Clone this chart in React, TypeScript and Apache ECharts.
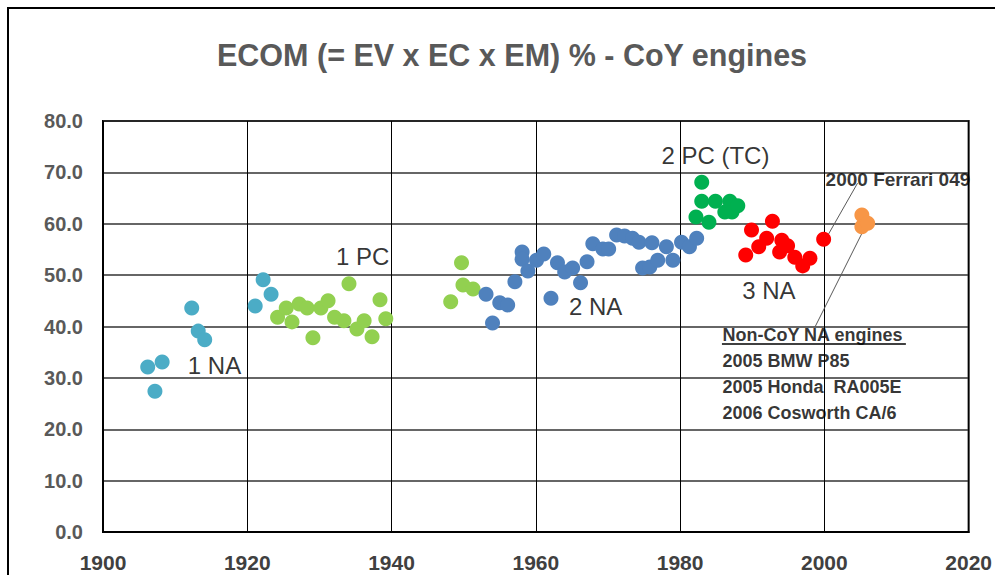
import React, { useEffect, useRef } from "react";
import * as echarts from "echarts";

const FONT = "'Liberation Sans', Arial, sans-serif";

const TITLE = "ECOM (= EV x EC x EM) % - CoY engines";

const X_MIN = 1900;
const X_MAX = 2020;
const X_STEP = 20;
const Y_MIN = 0;
const Y_MAX = 80;
const Y_STEP = 10;

const NA1_YEARS = [1906.2, 1907.2, 1908.2, 1912.3, 1913.2, 1914.1, 1921.1, 1922.2, 1923.3];
const NA1_VALUES = [32.1, 27.4, 33.1, 43.6, 39.1, 37.4, 44.0, 49.1, 46.3];

const PC1_YEARS = [1924.2, 1925.4, 1926.2, 1927.2, 1928.3, 1929.1, 1930.2, 1931.2, 1932.1, 1933.4, 1934.1, 1935.2, 1936.2, 1937.3, 1938.4, 1939.2, 1948.2, 1949.7, 1949.9, 1951.3];
const PC1_VALUES = [41.8, 43.6, 40.9, 44.4, 43.6, 37.8, 43.6, 45.0, 41.8, 41.1, 48.3, 39.5, 41.1, 38.0, 45.2, 41.5, 44.8, 52.4, 48.1, 47.3];

const NA2_YEARS = [1953.1, 1954.0, 1955.0, 1956.1, 1957.1, 1958.1, 1958.1, 1958.9, 1960.1, 1961.1, 1962.1, 1963.0, 1964.0, 1965.1, 1966.2, 1967.1, 1967.9, 1969.3, 1970.1, 1971.2, 1972.3, 1973.4, 1974.3, 1974.8, 1975.8, 1976.1, 1976.9, 1978.1, 1979.0, 1980.2, 1981.3, 1982.3];
const NA2_VALUES = [46.3, 40.7, 44.6, 44.2, 48.7, 54.5, 53.1, 50.8, 52.9, 54.1, 45.5, 52.4, 50.6, 51.4, 48.5, 52.6, 56.1, 55.1, 55.1, 57.8, 57.6, 57.2, 56.4, 51.4, 51.6, 56.3, 52.9, 55.5, 52.9, 56.4, 55.5, 57.2];

const PC2_YEARS = [1982.2, 1983.0, 1983.0, 1984.0, 1984.9, 1986.2, 1986.9, 1987.2, 1988.0];
const PC2_VALUES = [61.3, 68.1, 64.4, 60.3, 64.4, 62.3, 64.4, 62.3, 63.5];

const NA3_YEARS = [1989.1, 1989.9, 1990.9, 1992.0, 1992.8, 1993.8, 1994.1, 1994.9, 1995.9, 1997.0, 1998.0, 1999.9];
const NA3_VALUES = [53.9, 58.8, 55.5, 57.2, 60.5, 54.5, 56.8, 55.7, 53.5, 51.8, 53.3, 57.0];

const NONCOY_YEARS = [2005.2, 2005.2, 2006.0];
const NONCOY_VALUES = [61.7, 59.4, 60.1];

const GROUP_LABELS = ["1 NA", "1 PC", "2 NA", "2 PC (TC)", "3 NA"];
const GROUP_LABEL_X = [1915.45, 1936.0, 1968.3, 1984.9, 1992.3];
const GROUP_LABEL_Y = [32.5, 53.7, 43.8, 73.2, 47.1];

const FERRARI_TEXT = "2000 Ferrari 049";
const FERRARI_POS = [2010.2, 68.7];
const FERRARI_LEADER = [[2000.5, 57.8], [2004.6, 67.9]];

const NONCOY_LINES = ["Non-CoY NA engines", "2005 BMW P85", "2005 Honda  RA005E", "2006 Cosworth CA/6"];
const NONCOY_TEXT_X = 1985.8;
const NONCOY_TEXT_Y = [38.3, 33.3, 28.2, 23.2];
const NONCOY_UNDERLINE = [[1985.8, 36.6], [2011.3, 36.6]];
const NONCOY_LEADER = [[2005.3, 58.4], [1998.7, 39.9]];

const zip = (xs: number[], ys: number[]) => xs.map((x, i) => [x, ys[i]]);

const scatter = (name: string, color: string, xs: number[], ys: number[]) => ({
  name,
  type: "scatter",
  data: zip(xs, ys),
  symbolSize: 15,
  itemStyle: { color, opacity: 1 },
  silent: true,
  z: 3,
});

export default function App() {
  const ref = useRef<HTMLDivElement>(null);

  useEffect(() => {
    if (!ref.current) return;
    const chart = echarts.init(ref.current, undefined, { renderer: "svg" });

    const groupLabelData = GROUP_LABELS.map((t, i) => ({
      name: t,
      value: [GROUP_LABEL_X[i], GROUP_LABEL_Y[i]],
    }));

    const noncoyData = NONCOY_LINES.map((t, i) => ({
      name: t,
      value: [NONCOY_TEXT_X, NONCOY_TEXT_Y[i]],
    }));

    chart.setOption({
      animation: false,
      backgroundColor: "#ffffff",
      title: {
        text: TITLE,
        left: 212,
        top: 34,
        textStyle: { fontFamily: FONT, fontSize: 30.5, fontWeight: "bold", color: "#595959" },
      },
      grid: {
        left: 103,
        top: 121,
        right: 26,
        bottom: 43,
        show: true,
        borderColor: "#000",
        borderWidth: 2,
        backgroundColor: "transparent",
      },
      xAxis: {
        type: "value",
        min: X_MIN,
        max: X_MAX,
        interval: X_STEP,
        axisLine: { show: true, lineStyle: { color: "#000", width: 2 } },
        axisTick: { show: false },
        splitLine: { show: true, lineStyle: { color: "#000", width: 1 } },
        axisLabel: {
          fontFamily: FONT,
          fontSize: 21,
          fontWeight: "bold",
          color: "#404040",
          margin: 20,
          formatter: (v: number) => String(v),
        },
      },
      yAxis: {
        type: "value",
        min: Y_MIN,
        max: Y_MAX,
        interval: Y_STEP,
        axisLine: { show: false },
        axisTick: { show: false },
        splitLine: { show: true, lineStyle: { color: "#333333", width: 1.5 } },
        axisLabel: {
          fontFamily: FONT,
          fontSize: 20,
          fontWeight: "bold",
          color: "#595959",
          margin: 20,
          formatter: (v: number) => v.toFixed(1),
        },
      },
      graphic: [
        {
          type: "rect",
          shape: { x: 8, y: 8, width: 1100, height: 700 },
          style: { fill: "none", stroke: "#000", lineWidth: 2 },
          silent: true,
        },
      ],
      series: [
        scatter("1 NA", "#4BACC6", NA1_YEARS, NA1_VALUES),
        scatter("1 PC", "#92D050", PC1_YEARS, PC1_VALUES),
        scatter("2 NA", "#4F81BD", NA2_YEARS, NA2_VALUES),
        scatter("2 PC (TC)", "#00B050", PC2_YEARS, PC2_VALUES),
        scatter("3 NA", "#FF0000", NA3_YEARS, NA3_VALUES),
        scatter("Non-CoY", "#F79646", NONCOY_YEARS, NONCOY_VALUES),
        {
          type: "line",
          data: FERRARI_LEADER,
          symbol: "none",
          silent: true,
          lineStyle: { color: "#595959", width: 1 },
          z: 2,
        },
        {
          type: "line",
          data: NONCOY_LEADER,
          symbol: "none",
          silent: true,
          lineStyle: { color: "#595959", width: 1 },
          z: 2,
        },
        {
          type: "line",
          data: NONCOY_UNDERLINE,
          symbol: "none",
          silent: true,
          lineStyle: { color: "#000", width: 1.5 },
          z: 5,
        },
        {
          type: "scatter",
          data: groupLabelData,
          symbolSize: 1,
          itemStyle: { color: "transparent" },
          silent: true,
          z: 6,
          label: {
            show: true,
            position: "inside",
            formatter: (p: any) => p.name,
            fontFamily: FONT,
            fontSize: 24,
            color: "#000000",
          },
        },
        {
          type: "scatter",
          data: [{ name: FERRARI_TEXT, value: FERRARI_POS }],
          symbolSize: 1,
          itemStyle: { color: "transparent" },
          silent: true,
          z: 6,
          label: {
            show: true,
            position: "inside",
            formatter: (p: any) => p.name,
            fontFamily: FONT,
            fontSize: 19,
            fontWeight: "bold",
            color: "#000000",
          },
        },
        {
          type: "scatter",
          data: noncoyData,
          symbolSize: 1,
          itemStyle: { color: "transparent" },
          silent: true,
          z: 6,
          label: {
            show: true,
            position: "right",
            distance: 0,
            formatter: (p: any) => p.name,
            fontFamily: FONT,
            fontSize: 18,
            fontWeight: "bold",
            color: "#000000",
          },
        },
      ],
    });

    return () => chart.dispose();
  }, []);

  return (
    <div
      ref={ref}
      style={{ position: "fixed", left: 0, top: 0, width: 995, height: 575 }}
    />
  );
}
